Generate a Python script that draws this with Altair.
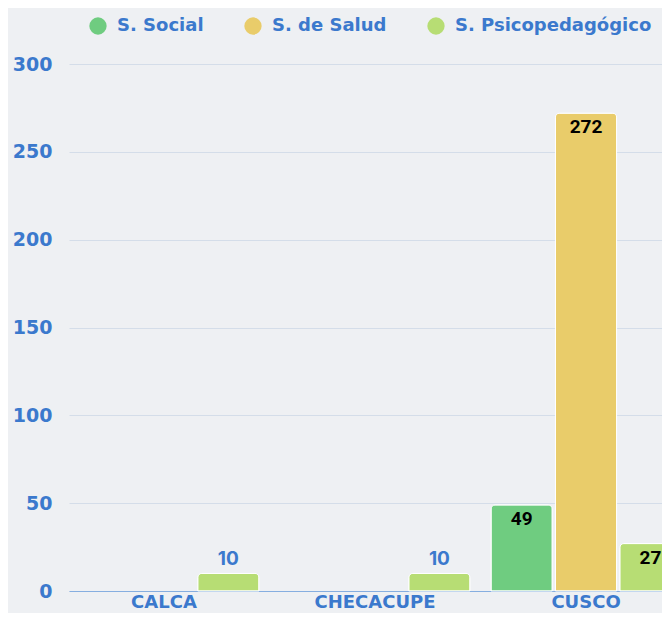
import altair as alt
import pandas as pd

categories = ["CALCA", "CHECACUPE", "CUSCO"]
series = ["S. Social", "S. de Salud", "S. Psicopedagógico"]
social = [0, 0, 49]
salud = [0, 0, 272]
psico = [10, 10, 27]
colors = ["#6fcc80", "#e9cc6a", "#b7dd74"]

rows = []
for i, c in enumerate(categories):
    for s, vals in zip(series, [social, salud, psico]):
        rows.append({"cat": c, "series": s, "value": vals[i]})
df = pd.DataFrame(rows)

BLUE = "#3b79cd"

base = alt.Chart(df).encode(
    x=alt.X("cat:N", sort=categories, title=None,
            scale=alt.Scale(paddingInner=0.1, paddingOuter=0, range=[0, 612]),
            axis=alt.Axis(labelAngle=0, labelFontSize=18, labelFont="DejaVu Sans",
                          labelFontWeight="bold", labelColor=BLUE, ticks=False,
                          labelPadding=2, domainColor="#86aee0", domainWidth=1.2)),
    xOffset=alt.XOffset("series:N", sort=series, scale=alt.Scale(paddingInner=0.05)),
    y=alt.Y("value:Q", title=None,
            scale=alt.Scale(domain=[0, 300]),
            axis=alt.Axis(values=[0, 50, 100, 150, 200, 250, 300], labelFontSize=19,
                          labelFont="DejaVu Sans", labelFontWeight="bold", labelColor=BLUE,
                          ticks=False, domain=False, gridColor="#d4dde9",
                          labelPadding=17)),
)

bars = base.mark_bar(cornerRadiusTopLeft=4, cornerRadiusTopRight=4,
                     stroke="white", strokeWidth=1).encode(
    color=alt.Color("series:N", sort=series,
                    scale=alt.Scale(domain=series, range=colors),
                    legend=alt.Legend(title=None, orient="none", direction="horizontal",
                                      legendX=20, legendY=-47, symbolType="circle",
                                      symbolSize=300, symbolStrokeWidth=0,
                                      labelFontSize=18, labelFont="DejaVu Sans",
                                      labelFontWeight="bold", labelColor=BLUE,
                                      labelLimit=400, columnPadding=40, labelOffset=10))
).transform_filter("datum.value > 0")

labels_out = base.mark_text(baseline="bottom", dy=-4, fontSize=19, font="Inter",
                            fontWeight="bold", color=BLUE).encode(
    text="value:Q"
).transform_filter("datum.value > 0 && datum.value < 20")

labels_in = base.mark_text(baseline="top", dy=5, fontSize=19, font="Roboto",
                           fontWeight="bold", color="black").encode(
    text="value:Q"
).transform_filter("datum.value >= 20")

chart = alt.layer(bars, labels_out, labels_in).properties(
    width=593, height=527, background="#eef0f3",
    autosize=alt.AutoSizeParams(type="none"),
    padding={"left": 61, "top": 56, "right": 0, "bottom": 22},
).configure_view(stroke=None)

chart.save("out.html", embed_options={"renderer": "svg", "actions": False})
